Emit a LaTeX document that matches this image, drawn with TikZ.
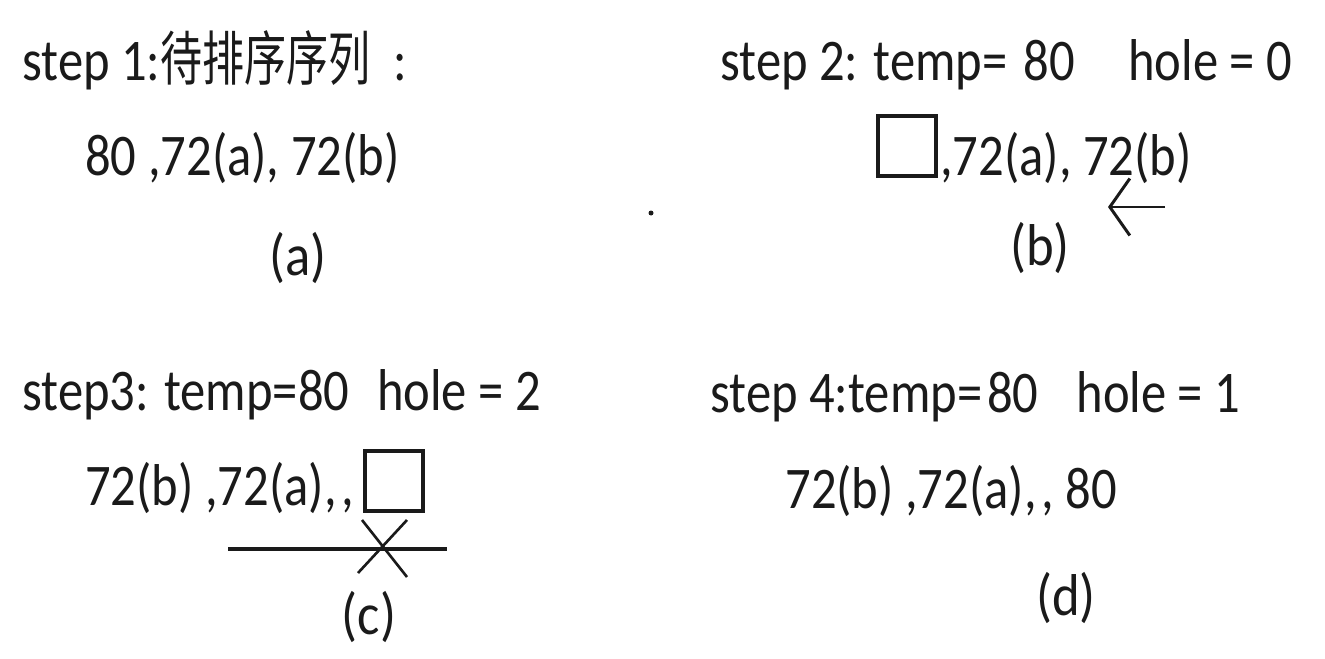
\documentclass[tikz,border=0pt]{standalone}
\usepackage{fontspec}
\setmainfont{Carlito}
\newfontfamily\cjk{Noto Sans CJK SC}
\usetikzlibrary{arrows.meta}
\definecolor{Ink}{HTML}{1A1A1A}
\tikzset{
 every node/.style={font=\fontsize{30}{36}\selectfont,text=Ink},
 line/.style={anchor=base west,inner sep=0pt,xscale=.96,yscale=1.12},
 tag/.style={inner sep=0pt,yscale=1.12},
 hole/.style={draw=Ink,line width=2pt,minimum width=1.16cm,minimum height=1.2cm,inner sep=0pt},
 stroke/.style={draw=Ink,line width=1.5pt},
 }

\begin{document}
\begin{tikzpicture}[x=.02cm,y=-.02cm]
 \useasboundingbox (0,0) rectangle (1325,659);
 % (a) the input
 \node[line] (t1) at (22,80) {step 1:{\cjk\scalebox{.83}[1]{待排序序列}}\hspace{.45em}:};
 \node[line] (s1) at (85,175) {80 ,72(a), 72(b)};
 \node[tag] (la) at (298,258) {(a)};
 \fill[Ink] (651,213) circle (2.5);
 % (b) take out 80
 \node[line] (t2) at (720,80) {step 2: temp= \kern.1em80\hspace{1.05em}hole = 0};
 \node[hole] (hb) at (907,146) {};
 \node[line] (s2) at (940,175) {,72(a), 72(b)};
 \coordinate (b1) at (1165,207);
 \coordinate (b2) at (1108,207);
 \draw[stroke,line width=1.7pt,-{Straight Barb[length=.4cm,width=1.14cm]}] (b1) -- (b2);
 \node[tag] (lb) at (1040,248) {(b)};
 % (c) hole moves to the end
 \node[line] (t3) at (22,410) {step3: temp=80\hspace{.55em}hole = 2};
 \node[line] (s3) at (85,505) {72(b) ,72(a),\kern.1em, };
 \node[hole] (hc) at (394,481) {};
 \coordinate (c1) at (228,549);
 \coordinate (c2) at (447,549);
 \draw[stroke,line width=2pt] (c1) -- (c2);
 \coordinate (x1) at (362,520);
 \coordinate (x2) at (407,577);
 \coordinate (x3) at (407,520);
 \coordinate (x4) at (358,573);
 \draw[stroke] (x1) -- (x2) (x3) -- (x4);
 \node[tag] (lc) at (369,617) {(c)};
 % (d) 80 put back
 \node[line] (t4) at (710,412) {step 4:temp=\kern.1em80\hspace{.75em}hole = 1};
 \node[line] (s4) at (785,508) {72(b) ,72(a),\kern.1em, 80};
 \node[tag] (ld) at (1066,598) {(d)};
\end{tikzpicture}
\end{document}
